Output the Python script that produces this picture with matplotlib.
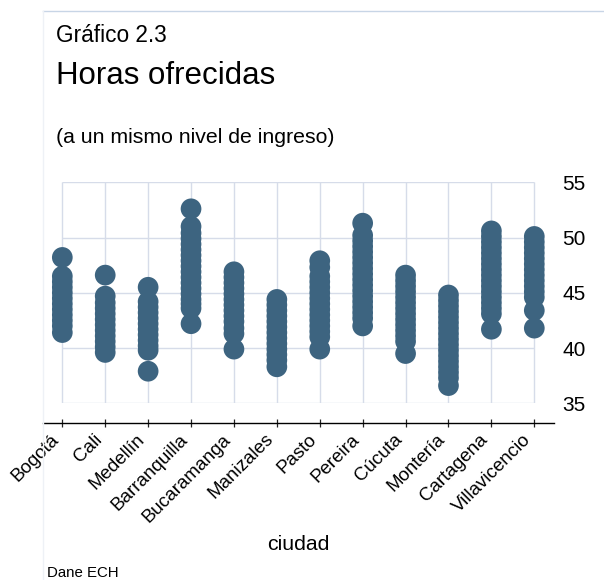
import matplotlib.pyplot as plt
from matplotlib.lines import Line2D

plt.rcParams['font.family'] = ['Liberation Sans', 'DejaVu Sans']

# ciudades (eje x) y horas ofrecidas
ciudades = ['Bogotá', 'Cali', 'Medellín', 'Barranquilla', 'Bucaramanga', 'Manizales',
            'Pasto', 'Pereira', 'Cúcuta', 'Montería', 'Cartagena', 'Villavicencio']

bogota = [48.2, 46.5, 46.0, 45.5, 45.0, 44.5, 44.0, 43.5, 43.0, 42.5, 42.0, 41.4]
cali = [46.6, 44.7, 44.1, 43.6, 43.1, 42.6, 42.1, 41.6, 41.1, 40.6, 40.1, 39.6]
medellin = [45.5, 44.2, 43.7, 43.2, 42.7, 42.2, 41.7, 41.2, 40.7, 40.2, 39.8, 37.9]
barranquilla = [52.6, 51.0, 50.4, 49.9, 49.4, 48.9, 48.4, 47.9, 47.4, 46.9, 46.4, 45.9,
                45.4, 44.9, 44.4, 44.0, 43.6, 42.2]
bucaramanga = [46.9, 46.4, 45.9, 45.4, 44.9, 44.4, 43.9, 43.4, 42.9, 42.4, 41.8, 41.3, 39.9]
manizales = [44.4, 43.9, 43.4, 42.9, 42.4, 41.9, 41.4, 40.9, 40.4, 39.9, 39.4, 38.9, 38.3]
pasto = [47.9, 47.3, 46.5, 46.0, 45.5, 45.0, 44.5, 44.0, 43.5, 43.0, 42.5, 42.0, 41.5,
         41.0, 39.9]
pereira = [51.3, 50.2, 49.7, 49.2, 48.7, 48.2, 47.7, 47.2, 46.7, 46.2, 45.7, 45.2, 44.7,
           44.2, 43.7, 43.2, 42.7, 42.0]
cucuta = [46.6, 46.1, 45.6, 45.1, 44.6, 44.1, 43.6, 43.1, 42.6, 42.1, 41.6, 41.1, 40.6, 39.5]
monteria = [44.8, 44.3, 43.8, 43.3, 42.8, 42.3, 41.8, 41.3, 40.8, 40.3, 39.8, 39.3, 38.8,
            38.3, 37.8, 37.3, 36.6]
cartagena = [50.6, 50.1, 49.6, 49.1, 48.6, 48.1, 47.6, 47.1, 46.6, 46.1, 45.6, 45.1, 44.6,
             44.1, 43.6, 43.1, 41.7]
villavicencio = [50.1, 49.6, 49.1, 48.6, 48.1, 47.6, 47.1, 46.6, 46.1, 45.6, 45.1, 44.6,
                 43.4, 41.8]

horas = [bogota, cali, medellin, barranquilla, bucaramanga, manizales,
         pasto, pereira, cucuta, monteria, cartagena, villavicencio]
y_ticks = [35, 40, 45, 50, 55]

color_punto = '#3d6480'
color_grid = '#d6dce9'

fig = plt.figure(figsize=(6.04, 5.80), dpi=100)
ax = fig.add_axes([0.0707, 0.3047, 0.8465, 0.381])

# grilla solo dentro del rango de datos
n = len(ciudades)
ax.hlines(y_ticks, 0, n - 1, color=color_grid, lw=1, zorder=0)
ax.vlines(range(n), y_ticks[0], y_ticks[-1], color=color_grid, lw=1, zorder=0)

for i, vals in enumerate(horas):
    ax.scatter([i] * len(vals), vals, s=222, color=color_punto, edgecolors='none',
               clip_on=False, zorder=3)

ax.set_xlim(-0.457, n - 1 + 0.459)
ax.set_ylim(35, 55)

for s in ['top', 'left', 'right']:
    ax.spines[s].set_visible(False)
ax.spines['bottom'].set_position(('outward', 14.4))
ax.spines['bottom'].set_linewidth(1)

ax.set_xticks(range(n))
ax.set_xticklabels(ciudades, rotation=45, ha='right', va='top', fontsize=13.5)
ax.tick_params(axis='x', direction='inout', length=5.8, width=0.9, pad=2.5, colors='#222222')
for lbl in ax.get_xticklabels():
    lbl.set_color('black')

ax.yaxis.tick_right()
ax.set_yticks(y_ticks)
ax.tick_params(axis='y', length=0, pad=5.8, labelsize=15)

# textos
fig.text(56 / 604, 1 - 41.7 / 580, 'Gráfico 2.3', fontsize=16.3, va='baseline')
fig.text(56 / 604, 1 - 84 / 580, 'Horas ofrecidas', fontsize=22.5, va='baseline')
fig.text(56 / 604, 1 - 143.3 / 580, '(a un mismo nivel de ingreso)', fontsize=15.3, va='baseline')
fig.text(298.3 / 604, 1 - 550 / 580, 'ciudad', fontsize=15.3, ha='center', va='baseline')
fig.text(46.7 / 604, 1 - 576.7 / 580, 'Dane ECH', fontsize=10.8, va='baseline')

# marco tenue del grafico
fig.add_artist(Line2D([42.7 / 604, 1], [1 - 11 / 580] * 2, color='#c8d5e6', lw=1))
fig.add_artist(Line2D([42.7 / 604] * 2, [0, 1 - 11 / 580], color='#eef1f6', lw=1))

fig.savefig('out.png', dpi=100)
